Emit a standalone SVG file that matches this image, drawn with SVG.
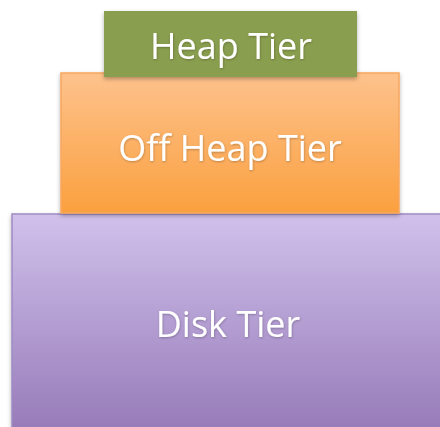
<svg xmlns="http://www.w3.org/2000/svg" width="440" height="427" viewBox="0 0 440 427">
<defs>
<linearGradient id="gOrange" x1="0" y1="0" x2="0" y2="1">
<stop offset="0" stop-color="#FDC28C"/>
<stop offset="1" stop-color="#FBA03F"/>
</linearGradient>
<linearGradient id="gPurple" x1="0" y1="0" x2="0" y2="1">
<stop offset="0" stop-color="#D0C1EB"/>
<stop offset="1" stop-color="#977BB9"/>
</linearGradient>
<filter id="shadow" x="-10%" y="-10%" width="120%" height="130%">
<feDropShadow dx="0" dy="2" stdDeviation="2" flood-color="#000" flood-opacity="0.3"/>
</filter>
<filter id="tshadow" x="-10%" y="-20%" width="120%" height="140%">
<feDropShadow dx="0.5" dy="1" stdDeviation="0.8" flood-color="#000" flood-opacity="0.25"/>
</filter>
</defs>
<style>
.lbl{font-family:"Open Sans","Liberation Sans",sans-serif;fill:#fff;text-anchor:middle;font-size:36px;filter:url(#tshadow)}
</style>
<rect width="440" height="427" fill="#fff"/>
<g id="disk">
<rect x="12" y="214" width="432" height="216" fill="url(#gPurple)" stroke="#9F8AC4" stroke-width="1.5" filter="url(#shadow)"/>
<text class="lbl" x="228" y="337">Disk Tier</text>
</g>
<g id="offheap">
<rect x="61" y="73" width="338" height="140" fill="url(#gOrange)" stroke="#F7A75E" stroke-width="1.5" filter="url(#shadow)"/>
<text class="lbl" x="230" y="161">Off Heap Tier</text>
</g>
<g id="heap">
<rect x="104" y="11" width="253" height="66" fill="#8A9E50" filter="url(#shadow)"/>
<text class="lbl" x="231" y="59">Heap Tier</text>
</g>
<g id="connectors"/>
</svg>
